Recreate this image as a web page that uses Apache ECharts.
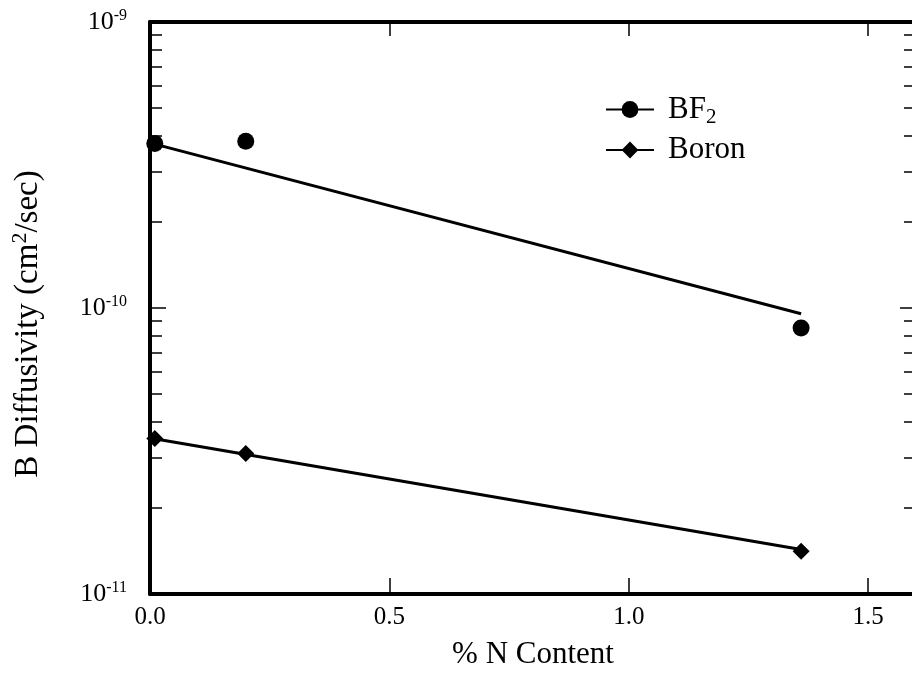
<!DOCTYPE html>
<html>
<head>
<meta charset="utf-8">
<script src="https://cdn.jsdelivr.net/npm/echarts@6/dist/echarts.min.js"></script>
<style>html,body{margin:0;padding:0;background:#fff;overflow:hidden;width:912px;height:675px}#c{width:920px;height:675px}</style>
</head>
<body>
<div id="c"></div>
<script>
// ---- data ----
const seriesNames = ['BF2', 'Boron'];
const bf2X = [0.01, 0.2, 1.36];
const bf2Y = [3.76e-10, 3.83e-10, 8.51e-11];
const boronX = [0.01, 0.2, 1.36];
const boronY = [3.50e-11, 3.10e-11, 1.41e-11];
const bf2FitX = [0, 1.36];
const bf2FitY = [3.78e-10, 9.55e-11];
const boronFitX = [0, 1.36];
const boronFitY = [3.51e-11, 1.43e-11];
const xTickLabels = [0, 0.5, 1.0, 1.5];
const yMajorTicks = [1e-11, 1e-10, 1e-9];
const yMinorTicks = [2e-11,3e-11,4e-11,5e-11,6e-11,7e-11,8e-11,9e-11,2e-10,3e-10,4e-10,5e-10,6e-10,7e-10,8e-10,9e-10];

const FONT = "'Liberation Serif', 'Times New Roman', serif";
const zip = (xs, ys) => xs.map((x, i) => [x, ys[i]]);

const chart = echarts.init(document.getElementById('c'), null, {renderer: 'canvas'});

const yBase = {
  type: 'log', logBase: 10, min: 1e-11, max: 1e-9, gridIndex: 0,
  splitLine: {show: false}, minorTick: {show: false}, minorSplitLine: {show: false}
};
const xBase = {
  type: 'value', min: 0, max: 1.6, gridIndex: 0, splitLine: {show: false}
};

chart.setOption({
  animation: false,
  backgroundColor: '#fff',
  textStyle: {fontFamily: FONT, color: '#000'},
  grid: {left: 150, top: 22, width: 766, height: 573, containLabel: false},
  legend: {
    data: seriesNames,
    orient: 'vertical',
    left: 605, top: 91, padding: 0,
    itemWidth: 48, itemHeight: 21, itemGap: 4,
    lineStyle: {width: 2, opacity: 1, color: '#000'},
    formatter: n => n === 'BF2' ? '{g|}{m|BF}{sub|2}' : '{g|}{m|' + n + '}',
    textStyle: {
      fontFamily: FONT, fontSize: 31, color: '#000', lineHeight: 36,
      rich: {
        g: {width: 9, lineHeight: 36},
        m: {fontFamily: FONT, fontSize: 31, lineHeight: 36, color: '#000'},
        sub: {fontFamily: FONT, fontSize: 21, lineHeight: 20, padding: [16, 0, 0, 0], color: '#000'}
      }
    }
  },
  xAxis: [
    Object.assign({}, xBase, {
      position: 'bottom',
      name: '% N Content', nameLocation: 'middle', nameGap: 45,
      nameTextStyle: {fontFamily: FONT, fontSize: 31, color: '#000'},
      axisLine: {show: true, lineStyle: {color: '#000', width: 4}},
      axisTick: {show: true, inside: true, length: 16, customValues: [0.5, 1.0, 1.5], lineStyle: {color: '#000', width: 1.5}},
      axisLabel: {show: true, customValues: xTickLabels, margin: 11, fontFamily: FONT, fontSize: 25, color: '#000',
        formatter: v => Number(v).toFixed(1)}
    }),
    Object.assign({}, xBase, {
      position: 'top',
      axisLine: {show: true, lineStyle: {color: '#000', width: 4}},
      axisTick: {show: true, inside: true, length: 14, customValues: [0.5, 1.0, 1.5], lineStyle: {color: '#000', width: 1.5}},
      axisLabel: {show: false}
    })
  ],
  yAxis: [
    Object.assign({}, yBase, {
      position: 'left',
      name: '{m|B Diffusivity (cm}{sup|2}{m|/sec)}', nameLocation: 'middle', nameGap: 104,
      nameTextStyle: {fontFamily: FONT, fontSize: 33, color: '#000', padding: [0, 32, 0, 0],
        rich: {
          m: {fontFamily: FONT, fontSize: 33, lineHeight: 36, color: '#000'},
          sup: {fontFamily: FONT, fontSize: 22, lineHeight: 22, padding: [0, 0, 15, 0], color: '#000'}
        }},
      axisLine: {show: true, lineStyle: {color: '#000', width: 4}},
      axisTick: {show: true, inside: true, length: 16, customValues: yMajorTicks, lineStyle: {color: '#000', width: 1.5}},
      axisLabel: {show: true, customValues: yMajorTicks, margin: 23,
        formatter: v => '{n|10}{s|' + Math.round(Math.log10(v)) + '}',
        rich: {
          n: {fontFamily: FONT, fontSize: 26, lineHeight: 30, color: '#000'},
          s: {fontFamily: FONT, fontSize: 16, lineHeight: 16, padding: [0, 0, 13, 0], color: '#000'}
        }}
    }),
    Object.assign({}, yBase, {
      position: 'left',
      axisLine: {show: false},
      axisTick: {show: true, inside: true, length: 12, customValues: yMinorTicks, lineStyle: {color: '#000', width: 1.5}},
      axisLabel: {show: false}
    }),
    Object.assign({}, yBase, {
      position: 'right',
      axisLine: {show: true, lineStyle: {color: '#000', width: 4}},
      axisTick: {show: true, inside: true, length: 16, customValues: yMajorTicks, lineStyle: {color: '#000', width: 1.5}},
      axisLabel: {show: false}
    }),
    Object.assign({}, yBase, {
      position: 'right',
      axisLine: {show: false},
      axisTick: {show: true, inside: true, length: 12, customValues: yMinorTicks, lineStyle: {color: '#000', width: 1.5}},
      axisLabel: {show: false}
    })
  ],
  series: [
    {
      name: 'BF2 fit', type: 'line', xAxisIndex: 0, yAxisIndex: 0,
      data: zip(bf2FitX, bf2FitY), symbol: 'none', silent: true, z: 2,
      lineStyle: {color: '#000', width: 3}
    },
    {
      name: 'Boron fit', type: 'line', xAxisIndex: 0, yAxisIndex: 0,
      data: zip(boronFitX, boronFitY), symbol: 'none', silent: true, z: 2,
      lineStyle: {color: '#000', width: 3}
    },
    {
      name: 'BF2', type: 'line', xAxisIndex: 0, yAxisIndex: 0,
      data: zip(bf2X, bf2Y), symbol: 'circle', symbolSize: 17, showAllSymbol: true, z: 3,
      lineStyle: {opacity: 0, width: 0}, itemStyle: {color: '#000'}
    },
    {
      name: 'Boron', type: 'line', xAxisIndex: 0, yAxisIndex: 0,
      data: zip(boronX, boronY), symbol: 'diamond', symbolSize: 17, showAllSymbol: true, z: 3,
      lineStyle: {opacity: 0, width: 0}, itemStyle: {color: '#000'}
    }
  ]
});
</script>
</body>
</html>
